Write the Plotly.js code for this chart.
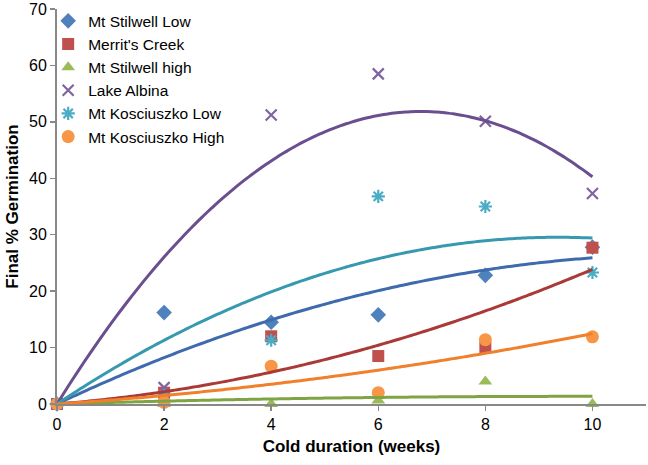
<!DOCTYPE html>
<html>
<head>
<meta charset="utf-8">
<script src="https://cdn.plot.ly/plotly-3.0.1.min.js"></script>
<style>html,body{margin:0;padding:0;background:#fff;}#chart{width:648px;height:465px;}</style>
</head>
<body>
<div id="chart"></div>
<script>
// Cold duration (weeks)
var weeks = [0, 2, 4, 6, 8, 10];

// Final % germination per population
var seriesNames = ["Mt Stilwell Low", "Merrit's Creek", "Mt Stilwell high", "Lake Albina", "Mt Kosciuszko Low", "Mt Kosciuszko High"];
var stilwellLow    = [0, 16.2, 14.5, 15.8, 22.8, 27.8];
var merritsCreek   = [0, 2.0, 12.0, 8.5, 10.0, 27.7];
var stilwellHigh   = [0, 0, 0, 0.6, 4.0, 0];
var lakeAlbina     = [0, 2.9, 51.2, 58.5, 50.1, 37.3];
var kosciuszkoLow  = [0, 1.5, 11.3, 36.8, 35.0, 23.3];
var kosciuszkoHigh = [0, 0.3, 6.7, 2.0, 11.4, 11.9];

var xTicks = [0, 2, 4, 6, 8, 10];
var yTicks = [0, 10, 20, 30, 40, 50, 60, 70];

var allSeries = [stilwellLow, merritsCreek, stilwellHigh, lakeAlbina, kosciuszkoLow, kosciuszkoHigh];
var markerColors = ["#4F81BD", "#C0504D", "#9BBB59", "#8064A2", "#4BACC6", "#F79646"];
var lineColors   = ["#3E6AAE", "#A93A37", "#7FA443", "#6A4E8F", "#3799AF", "#F0802C"];
var symbols = ["diamond", "square", "triangle-up", "x-thin-open", "asterisk-open", "circle"];
var sizes = [12, 12, 12, 11, 11, 13];

// 2nd-order polynomial trendline with intercept fixed at 0 (least squares)
function fitThroughOrigin(xs, ys) {
  var s2 = 0, s3 = 0, s4 = 0, sxy = 0, sx2y = 0;
  for (var i = 0; i < xs.length; i++) {
    var x = xs[i], y = ys[i];
    s2 += x * x; s3 += x * x * x; s4 += x * x * x * x;
    sxy += x * y; sx2y += x * x * y;
  }
  var det = s2 * s4 - s3 * s3;
  var a = (sxy * s4 - s3 * sx2y) / det;
  var b = (s2 * sx2y - s3 * sxy) / det;
  return function (x) { return a * x + b * x * x; };
}

var traces = [];
allSeries.forEach(function (ys, k) {
  var isLine = symbols[k].indexOf("open") >= 0;
  traces.push({
    type: "scatter", mode: "markers", name: seriesNames[k],
    x: weeks, y: ys, legendgroup: "g" + k, cliponaxis: false,
    marker: {
      symbol: symbols[k], size: sizes[k], color: markerColors[k],
      line: isLine ? {color: markerColors[k], width: 2.2} : {width: 0}
    }
  });
});
allSeries.forEach(function (ys, k) {
  var f = fitThroughOrigin(weeks, ys);
  var xs = [], yv = [];
  var xmin = weeks[0], xmax = weeks[weeks.length - 1];
  for (var i = 0; i <= 100; i++) {
    var x = xmin + (xmax - xmin) * i / 100;
    xs.push(x); yv.push(f(x));
  }
  traces.push({
    type: "scatter", mode: "lines", x: xs, y: yv, showlegend: false,
    hoverinfo: "skip", cliponaxis: false,
    line: {color: lineColors[k], width: 3, shape: "spline"}
  });
});

var layout = {
  width: 648, height: 465,
  margin: {l: 57, r: 2, t: 9, b: 61},
  paper_bgcolor: "#fff", plot_bgcolor: "#fff",
  font: {family: "Liberation Sans, Arial, sans-serif", color: "#000", size: 16},
  showlegend: true,
  legend: {
    x: -0.015, y: 1.012, xanchor: "left", yanchor: "top",
    bgcolor: "rgba(0,0,0,0)", font: {size: 15.5, color: "#000"},
    traceorder: "grouped", tracegroupgap: 0, itemwidth: 30
  },
  xaxis: {
    range: [0, 11], tickvals: xTicks, ticktext: xTicks.map(String),
    showgrid: false, zeroline: false, showline: true, linecolor: "#888", linewidth: 2,
    ticks: "outside", ticklen: 5, tickcolor: "#888", tickwidth: 1.5,
    tickfont: {size: 16}, anchor: "y", ticklabeloverflow: "allow",
    title: {text: "<b>Cold duration (weeks)</b>", font: {size: 17, family: "Liberation Sans, Arial, sans-serif"}, standoff: 8}
  },
  yaxis: {
    range: [0, 70], tickvals: yTicks, ticktext: yTicks.map(String),
    showgrid: false, zeroline: false, showline: true, linecolor: "#888", linewidth: 2,
    ticks: "outside", ticklen: 5, tickcolor: "#888", tickwidth: 1.5,
    tickfont: {size: 16}, ticklabeloverflow: "allow",
    title: {text: "<b>Final % Germination</b>", font: {size: 17, family: "Liberation Sans, Arial, sans-serif"}, standoff: 6}
  }
};

Plotly.newPlot("chart", traces, layout, {displayModeBar: false, staticPlot: true});
</script>
</body>
</html>
